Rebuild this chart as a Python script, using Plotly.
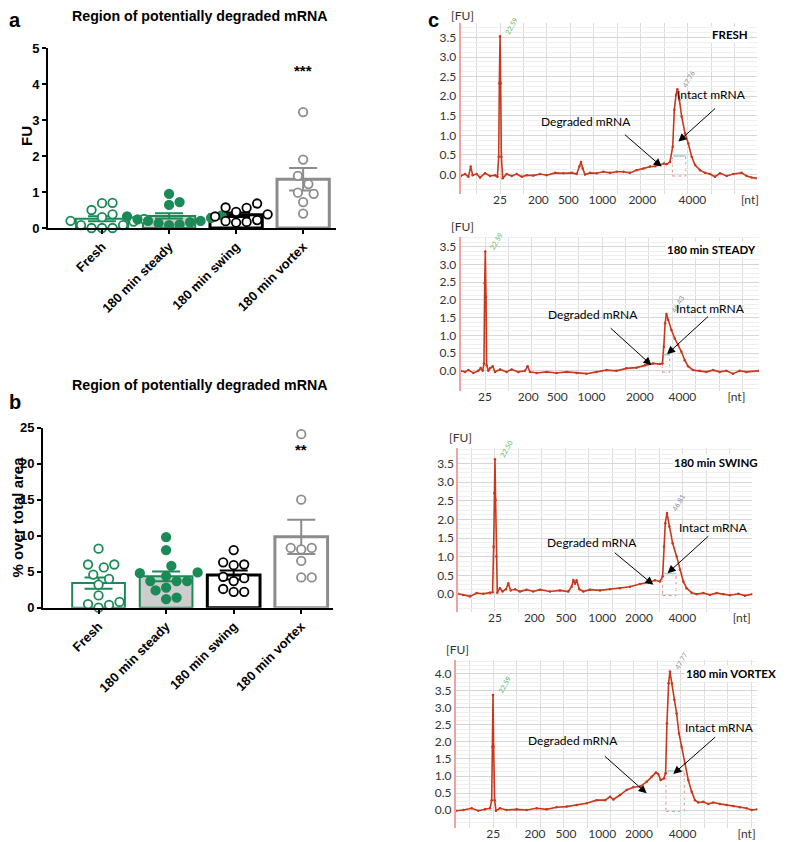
import plotly.graph_objects as go
import numpy as np

W, H = 787, 842
OFF = 8  # the page body adds an 8 px margin around the figure

# ---------------- data: panels a / b ----------------
groups = ["Fresh", "180 min steady", "180 min swing", "180 min vortex"]

fu_fresh = [0.70, 0.69, 0.50, 0.38, 0.30, 0.25, 0.20, 0.18, 0.08, 0.08, 0.0, 0.0, 0.0]
fu_steady = [0.95, 0.72, 0.64, 0.35, 0.32, 0.28, 0.24, 0.20, 0.20, 0.16, 0.13, 0.10, 0.08]
fu_swing = [0.68, 0.57, 0.56, 0.45, 0.38, 0.32, 0.22, 0.19, 0.17, 0.15]
fu_vortex = [3.22, 1.90, 1.45, 1.22, 0.98, 0.95, 0.72, 0.40]

pct_fresh = [8.2, 6.0, 6.0, 5.6, 4.6, 4.0, 3.2, 1.7, 0.8, 0.5, 0.4, 0.0]
pct_steady = [9.8, 8.0, 5.8, 4.9, 4.8, 4.4, 3.7, 3.7, 3.7, 2.8, 2.4, 1.4, 1.2]
pct_swing = [8.0, 6.3, 6.0, 5.9, 4.3, 4.1, 3.7, 2.6, 2.2, 2.2]
pct_vortex = [24.1, 15.0, 8.3, 8.3, 8.1, 6.5, 4.2, 4.2]

sig_a = ["", "", "", "***"]
sig_b = ["", "", "", "**"]
fu_ticks = [0, 1, 2, 3, 4, 5]
pct_ticks = [0, 5, 10, 15, 20, 25]

# ---------------- data: panel c (electropherograms) ----------------
c_names = ["FRESH", "180 min STEADY", "180 min SWING", "180 min VORTEX"]
nt_labels = ["25", "200", "500", "1000", "2000", "4000", "[nt]"]
nt_time = [
    [22.62, 28.10, 32.38, 37.24, 42.95, 50.10, 58.33],
    [20.48, 26.67, 30.81, 35.71, 42.62, 48.71, 56.43],
    [22.24, 27.86, 32.38, 37.57, 42.81, 49.00, 57.48],
    [22.33, 28.29, 32.71, 37.90, 43.14, 49.38, 58.52],
]

t_fresh = [17.0, 17.62, 18.1, 18.43, 18.71, 19.29, 19.76, 20.48, 21.19, 21.9, 22.24, 22.43, 22.52, 22.62,
           22.71, 22.81, 23.0, 23.57, 24.29, 25.0, 25.71, 26.43, 27.38, 28.33, 29.29, 30.48, 31.67, 32.86,
           33.57, 33.95, 34.19, 34.43, 34.76, 35.48, 36.43, 37.38, 38.33, 39.29, 40.24, 41.19, 42.14, 43.1,
           44.05, 44.76, 45.48, 46.05, 46.43, 46.9, 47.29, 47.52, 47.76, 47.95, 48.24, 48.57, 49.05, 49.52,
           50.0, 50.48, 51.19, 51.9, 52.62, 53.33, 54.05, 55.0, 55.95, 57.14, 57.86, 58.57, 59.29]
fu_t_fresh = [-0.04, 0.01, -0.06, 0.20, -0.02, 0.01, -0.08, 0.03, -0.04, -0.02, -0.06, 0.45, 2.33, 3.53,
              2.33, 0.45, -0.10, 0.01, -0.04, 0.01, -0.06, -0.02, -0.03, 0.01, -0.02, 0.04, 0.03, 0.04,
              0.01, 0.20, 0.32, 0.15, 0.0, 0.04, 0.03, 0.07, 0.04, 0.07, 0.07, 0.04, 0.11, 0.15,
              0.20, 0.21, 0.24, 0.28, 0.26, 0.32, 0.71, 1.65, 2.03, 2.18, 1.91, 1.48, 1.05, 0.79,
              0.45, 0.24, 0.11, 0.04, 0.01, -0.06, 0.03, -0.04, 0.01, 0.04, -0.04, -0.08, -0.10]

t_steady = [17.0, 17.62, 18.1, 18.81, 19.52, 19.86, 20.14, 20.33, 20.43, 20.52, 20.62, 20.71, 20.95, 21.19,
            21.57, 21.9, 22.62, 23.57, 24.29, 25.24, 26.19, 26.57, 26.9, 27.86, 29.29, 30.71, 32.14, 33.57,
            35.0, 36.43, 37.86, 39.29, 40.71, 42.14, 43.33, 44.52, 45.48, 45.86, 46.05, 46.24, 46.43, 46.67,
            47.14, 47.62, 48.1, 48.57, 49.05, 49.52, 50.24, 51.19, 52.14, 53.1, 54.05, 55.0, 55.95, 56.9,
            57.86, 59.67]
fu_t_steady = [0.0, -0.03, 0.02, -0.06, 0.0, 0.08, 0.0, 0.21, 2.47, 3.36, 2.09, 0.16, 0.0, 0.07,
               0.13, -0.03, 0.04, -0.03, 0.04, -0.03, 0.0, 0.13, -0.03, -0.06, -0.03, -0.06, -0.03, -0.06,
               -0.08, -0.03, 0.02, 0.0, 0.07, 0.09, 0.16, 0.21, 0.19, 0.21, 0.68, 1.34, 1.60, 1.43,
               1.15, 0.91, 0.73, 0.54, 0.30, 0.13, 0.02, 0.0, -0.03, 0.02, -0.03, 0.0, -0.08, 0.0,
               -0.03, 0.0]

t_swing = [17.0, 17.71, 18.67, 19.62, 20.57, 21.52, 21.9, 22.05, 22.14, 22.24, 22.33, 22.43, 22.57, 22.95,
           23.33, 23.81, 24.14, 24.48, 25.1, 25.81, 26.76, 27.71, 28.67, 30.1, 31.52, 32.71, 33.19, 33.43,
           33.67, 33.9, 34.29, 34.86, 35.81, 37.24, 38.67, 40.1, 41.52, 42.95, 44.14, 45.1, 45.81, 46.19,
           46.38, 46.57, 46.81, 47.14, 47.62, 48.19, 48.67, 49.14, 49.62, 50.33, 51.05, 52.0, 52.95, 53.9,
           54.86, 55.81, 57.0, 57.95, 59.0]
fu_t_swing = [0.01, -0.02, -0.06, 0.03, 0.01, 0.04, 0.05, 1.27, 2.70, 3.61, 2.52, 1.01, 0.04, 0.16,
              0.07, 0.13, 0.29, 0.10, 0.13, 0.07, 0.12, 0.07, 0.12, 0.07, 0.10, 0.07, 0.20, 0.38,
              0.28, 0.37, 0.13, 0.07, 0.12, 0.10, 0.13, 0.16, 0.20, 0.27, 0.31, 0.37, 0.34, 0.47,
              1.27, 1.90, 2.17, 1.81, 1.36, 1.01, 0.65, 0.34, 0.16, 0.04, 0.0, 0.03, -0.02, 0.03,
              0.0, -0.03, 0.01, -0.04, 0.0]

t_vortex = [17.0, 18.05, 19.24, 20.19, 21.14, 21.86, 22.1, 22.19, 22.29, 22.38, 22.52, 22.71, 23.29, 24.24,
            25.67, 27.1, 28.52, 29.95, 31.38, 32.81, 34.24, 35.67, 37.1, 38.29, 39.0, 39.48, 40.43, 41.38,
            42.33, 43.29, 44.24, 44.95, 45.57, 45.9, 46.24, 46.71, 46.95, 47.14, 47.38, 47.57, 47.86, 48.19,
            48.52, 48.86, 49.24, 49.71, 50.19, 50.67, 51.14, 51.62, 52.33, 53.05, 53.76, 54.71, 55.67, 56.62,
            57.57, 58.52, 59.24, 60.05]
fu_t_vortex = [-0.02, 0.0, 0.05, -0.02, 0.02, 0.05, 0.29, 1.86, 3.38, 1.86, 0.29, -0.02, 0.05, 0.0,
               0.02, 0.0, 0.05, 0.02, 0.08, 0.10, 0.15, 0.20, 0.29, 0.29, 0.39, 0.31, 0.44, 0.59,
               0.67, 0.69, 0.83, 0.98, 1.10, 1.06, 0.88, 0.93, 1.08, 2.55, 3.73, 4.07, 3.73, 3.24,
               2.84, 2.25, 1.86, 1.37, 0.88, 0.54, 0.29, 0.22, 0.24, 0.18, 0.22, 0.18, 0.15, 0.12,
               0.08, 0.05, 0.0, 0.02]

c_times = [t_fresh, t_steady, t_swing, t_vortex]
c_fus = [fu_t_fresh, fu_t_steady, fu_t_swing, fu_t_vortex]
marker_labels = ["22.59", "22.59", "22.50", "22.59"]
peak_labels = ["47.76", "46.43", "46.81", "47.77"]

# arrows: (text x, text y, tail x, tail y, tip x, tip y)
degraded_arrows = [
    (34.9, 1.35, 40.24, 1.05, 45.71, 0.20),
    (35.95, 1.60, 38.24, 1.24, 44.29, 0.16),
    (36.05, 1.38, 39.14, 1.14, 44.86, 0.25),
    (33.76, 2.04, 38.05, 1.62, 44.24, 0.49),
]
intact_arrows = [
    (52.86, 2.05, 53.57, 1.72, 48.10, 0.84),
    (52.71, 1.76, 52.60, 1.57, 46.52, 0.47),
    (53.43, 1.79, 52.95, 1.59, 46.90, 0.56),
    (54.71, 2.43, 54.24, 2.18, 48.05, 1.06),
]
name_pos = [(55.5, 3.57), (52.86, 3.43), (53.81, 3.53), (56.3, 4.0)]
intact_region = [(47.24, 49.14, 0.47), (45.86, 46.90, 0.45), (46.19, 48.10, 0.55), (47.0, 49.62, 1.15)]


# ---------------- helpers (page pixels -> paper fractions) ----------------
def px_x(p):
    return (p - OFF) / W


def px_y(p):
    return (H - (p - OFF)) / H


def xd(p0, p1):
    return [px_x(p0), px_x(p1)]


def yd(top, bottom):
    return [px_y(bottom), px_y(top)]


def swarm(vals, ppu_y, ppu_x, d=10.5):
    idx = sorted(range(len(vals)), key=lambda i: vals[i])
    placed = []
    off = [0.0] * len(vals)
    cands = [0.0]
    for m in range(1, 20):
        cands += [m * d / 2, -m * d / 2]
    for i in idx:
        y = vals[i] * ppu_y
        for c in cands:
            if all((c - px) ** 2 + (y - py) ** 2 >= d * d - 0.01 for px, py in placed):
                break
        placed.append((c, y))
        off[i] = c / ppu_x
    return off


GREEN = "#1b8a57"
GRAY = "#8c8c8c"
styles = [
    dict(fill="white", line=GREEN, lw=2, pfill="white", pline=GREEN),
    dict(fill="#cdcdcd", line=GREEN, lw=2, pfill=GREEN, pline=GREEN),
    dict(fill="white", line="black", lw=3, pfill="white", pline="black"),
    dict(fill="white", line=GRAY, lw=3, pfill="white", pline=GRAY),
]

fig = go.Figure()
ARIAL = "Liberation Sans, Arial, sans-serif"
CAL = "Lato, Noto Sans, sans-serif"


def bar_panel(datasets, xa, ya, ppu_y, ppu_x):
    for i, vals in enumerate(datasets):
        st = styles[i]
        v = np.array(vals, dtype=float)
        mean = v.mean()
        sem = v.std(ddof=1) / np.sqrt(len(v))
        fig.add_trace(go.Bar(
            x=[i], y=[mean], width=0.78, xaxis=xa, yaxis=ya,
            marker=dict(color=st["fill"], line=dict(color=st["line"], width=st["lw"])),
            error_y=dict(type="data", array=[sem], color=st["line"], thickness=2, width=14),
            showlegend=False, hoverinfo="skip"))
    for i, vals in enumerate(datasets):
        st = styles[i]
        off = swarm(vals, ppu_y, ppu_x)
        fig.add_trace(go.Scatter(
            x=[i + o for o in off], y=vals, mode="markers", xaxis=xa, yaxis=ya,
            marker=dict(size=8.5, color=st["pfill"], line=dict(color=st["pline"], width=1.8)),
            cliponaxis=False, showlegend=False, hoverinfo="skip"))


bar_panel([fu_fresh, fu_steady, fu_swing, fu_vortex], "x", "y", 36.0, 67.0)
bar_panel([pct_fresh, pct_steady, pct_swing, pct_vortex], "x2", "y2", 7.2, 67.5)

axis_common = dict(showgrid=False, zeroline=False, showline=True, linecolor="black", linewidth=2,
                   ticks="outside", ticklen=4, tickwidth=2, tickcolor="black", automargin=False,
                   tickfont=dict(family=ARIAL, size=13, color="black"))

fig.update_layout(
    xaxis=dict(domain=xd(48, 336), anchor="y", range=[-0.806, 3.49], tickvals=[0, 1, 2, 3],
               ticktext=["<b>%s</b>" % g for g in groups], tickangle=-45, **axis_common),
    yaxis=dict(domain=yd(48, 228), anchor="x", range=[0, 5], tickvals=fu_ticks,
               ticktext=["<b>%d</b>" % t for t in fu_ticks], **axis_common),
    xaxis2=dict(domain=xd(43, 333), anchor="y2", range=[-0.822, 3.47], tickvals=[0, 1, 2, 3],
                ticktext=["<b>%s</b>" % g for g in groups], tickangle=-45, **axis_common),
    yaxis2=dict(domain=yd(427.7, 607.7), anchor="x2", range=[0, 25], tickvals=pct_ticks,
                ticktext=["<b>%d</b>" % t for t in pct_ticks], **axis_common),
)

ann = []
for i, s in enumerate(sig_a):
    if s:
        ann.append(dict(x=i, y=4.37, xref="x", yref="y", text="<b>%s</b>" % s, showarrow=False,
                        yanchor="middle", font=dict(family=ARIAL, size=15, color="black")))
for i, s in enumerate(sig_b):
    if s:
        ann.append(dict(x=i, y=22.0, xref="x2", yref="y2", text="<b>%s</b>" % s, showarrow=False,
                        yanchor="middle", font=dict(family=ARIAL, size=15, color="black")))

# axis titles
ann.append(dict(x=px_x(27), y=px_y(136), xref="paper", yref="paper", text="<b>FU</b>", showarrow=False,
                textangle=-90, xanchor="center", yanchor="middle",
                font=dict(family=ARIAL, size=15, color="black")))
ann.append(dict(x=px_x(16.5), y=px_y(517), xref="paper", yref="paper", text="<b>% over total area</b>",
                showarrow=False, textangle=-90, xanchor="center", yanchor="middle",
                font=dict(family=ARIAL, size=15, color="black")))

title_txt = "<b>Region of potentially degraded mRNA</b>"
for ty in (16, 385):
    ann.append(dict(x=px_x(199), y=px_y(ty), xref="paper", yref="paper", text=title_txt, showarrow=False,
                    xanchor="center", yanchor="middle", font=dict(family=ARIAL, size=14.2, color="black")))
for lab, px, py in [("a", 15, 20), ("b", 15, 402), ("c", 433, 20)]:
    ann.append(dict(x=px_x(px), y=px_y(py), xref="paper", yref="paper", text="<b>%s</b>" % lab,
                    xanchor="center", yanchor="middle",
                    showarrow=False, font=dict(family=ARIAL, size=20, color="black")))

# ---------------- panel c ----------------
c_geom = [
    # x left px, x right px, top px, bottom px, t range, fu range
    (460.7, 756.7, 23, 194, [17, 59.29], [-0.5, 3.87]),
    (460.7, 759.0, 236.7, 390.7, [17, 59.67], [-0.56, 3.78]),
    (458.3, 752.3, 447.7, 611.7, [17, 59.0], [-0.47, 3.92]),
    (456.0, 757.3, 660, 827.7, [17, 60.05], [-0.52, 4.41]),
]
shapes = []
for k in range(4):
    xl, xr, top, bot, tr, fr = c_geom[k]
    n = k + 3
    xa, ya = "x%d" % n, "y%d" % n
    ymax = 4.0 if k == 3 else 3.5
    yt = [round(0.5 * j, 1) for j in range(int(ymax / 0.5) + 1)]
    fig.update_layout(**{
        "xaxis%d" % n: dict(domain=xd(xl, xr), anchor=ya, range=tr, tickmode="array", tickvals=nt_time[k],
                            ticktext=nt_labels, showgrid=False, zeroline=False, showline=False, ticks="",
                            automargin=False, ticklabelstandoff=-3,
                            tickfont=dict(family=CAL, size=12, color="#333"),
                            minor=dict(tickmode="linear", tick0=nt_time[k][0], dtick=3.35, showgrid=True,
                                       gridcolor="#dcdcdc", gridwidth=1, ticks="")),
        "yaxis%d" % n: dict(domain=yd(top, bot), anchor=xa, range=fr, tickmode="array", tickvals=yt,
                            ticktext=["%.1f" % v for v in yt], showgrid=True, gridcolor="#d6d6d6",
                            zeroline=False, showline=True, linecolor="#f0a3a3", linewidth=2, ticks="",
                            automargin=False,
                            tickfont=dict(family=CAL, size=12, color="#333"),
                            minor=dict(tickmode="linear", tick0=0, dtick=0.125, showgrid=True,
                                       gridcolor="#efefef", gridwidth=1, ticks="")),
    })
    # region rectangle + baseline marker
    r0, r1, rl = intact_region[k]
    shapes.append(dict(type="rect", xref=xa, yref=ya, x0=r0, x1=r1, y0=-0.04, y1=rl,
                       line=dict(color="#e58a8a", width=1, dash="dot"), layer="below"))
    shapes.append(dict(type="line", xref=xa, yref=ya, x0=r0 + 0.15, x1=r1, y0=rl, y1=rl,
                       line=dict(color="#9fd8cf", width=1.5)))
    fig.add_trace(go.Scatter(x=c_times[k], y=c_fus[k], xaxis=xa, yaxis=ya, mode="lines+markers",
                             line=dict(color="#c9381c", width=1.6), marker=dict(size=2.5, color="#c9381c"),
                             showlegend=False, hoverinfo="skip", cliponaxis=True))
    # peak labels
    mi = int(np.argmax(c_fus[k][:15]))
    ann.append(dict(x=c_times[k][mi], y=c_fus[k][mi], xref=xa, yref=ya, text=marker_labels[k],
                    showarrow=False, textangle=-60, yanchor="bottom", xanchor="left", yshift=-2,
                    font=dict(family=CAL, size=7, color="#5cb85c")))
    pi = int(np.argmax(c_fus[k][15:])) + 15
    ann.append(dict(x=c_times[k][pi], y=c_fus[k][pi], xref=xa, yref=ya, text=peak_labels[k],
                    showarrow=False, textangle=-60, yanchor="bottom", xanchor="left", yshift=-2,
                    font=dict(family=CAL, size=7, color="#888")))
    # name
    nx, ny = name_pos[k]
    ann.append(dict(x=nx, y=ny, xref=xa, yref=ya, text="<b>%s</b>" % c_names[k], showarrow=False,
                    xanchor="center", yanchor="middle",
                    bgcolor="white", font=dict(family=CAL, size=11.5, color="black")))
    # arrows
    for lab, arr in [("Degraded mRNA", degraded_arrows[k]), ("Intact mRNA", intact_arrows[k])]:
        tx, ty, ax, ay, hx, hy = arr
        ann.append(dict(x=tx, y=ty, xref=xa, yref=ya, text=lab, showarrow=False,
                        xanchor="center", yanchor="middle",
                        font=dict(family=CAL, size=12, color="black")))
        ann.append(dict(x=hx, y=hy, ax=ax, ay=ay, xref=xa, yref=ya, axref=xa, ayref=ya, text="",
                        showarrow=True, arrowhead=2, arrowsize=1.6, arrowwidth=1, arrowcolor="black"))
    # [FU]
    fu_bottom = top + 2 if k == 0 else top - 1
    ann.append(dict(x=px_x(xl + 2), y=px_y(fu_bottom), xref="paper", yref="paper", text="[FU]",
                    showarrow=False, xanchor="center", yanchor="bottom",
                    font=dict(family=CAL, size=12, color="#333")))

fig.update_layout(template="none", width=W, height=H, margin=dict(l=0, r=0, t=0, b=0, autoexpand=False),
                  paper_bgcolor="white", plot_bgcolor="white", annotations=ann, shapes=shapes,
                  barmode="overlay", font=dict(family=ARIAL, color="black"), showlegend=False)

fig.write_html("out.html")
